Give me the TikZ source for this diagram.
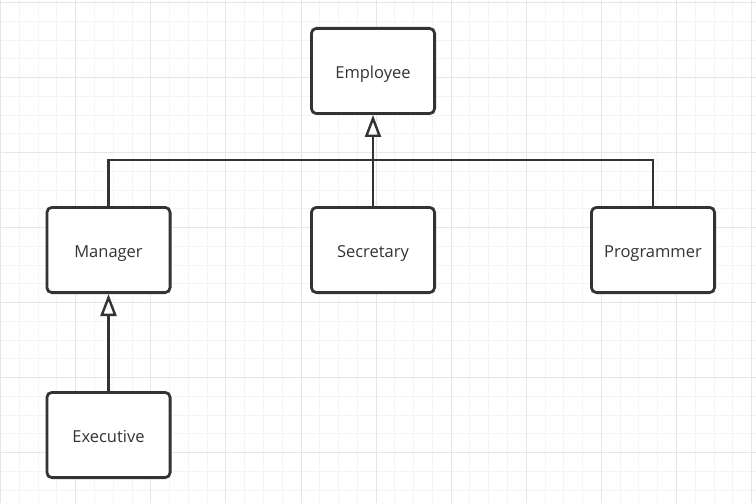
\documentclass[tikz,border=0pt]{standalone}
\usepackage{fontspec}
\setmainfont{Open Sans}
\usetikzlibrary{arrows.meta}
\definecolor{ink}{HTML}{333333}
\definecolor{txt}{HTML}{333333}
\definecolor{gridminor}{HTML}{F4F4F4}
\definecolor{gridmajor}{HTML}{E6E6E6}
\tikzset{
  classbox/.style={draw=ink, line width=2.8pt, rounded corners=5pt, fill=white,
    minimum width=123.2pt, minimum height=85.2pt, inner sep=0pt,
    text height=15.5pt, text depth=0pt,
    text=txt, font=\fontsize{16.5}{19}\selectfont},
  conn/.style={draw=ink, line width=2.8pt},
  inherit/.style={conn, -{Triangle[open, length=22pt, width=16pt, line width=2.4pt]}}
}
\begin{document}
\begin{tikzpicture}[x=1pt,y=-1pt]
\useasboundingbox (0,0) rectangle (756,503);
\fill[white] (0,0) rectangle (756,503);
% grid
\foreach \i in {0,...,41} {
  \draw[gridminor, line width=1pt] ({0.6+18.775*\i},0) -- ({0.6+18.775*\i},503);
}
\foreach \i in {0,...,27} {
  \draw[gridminor, line width=1pt] (0,{2.7+18.75*\i}) -- (756,{2.7+18.75*\i});
}
\foreach \i in {0,...,10} {
  \draw[gridmajor, line width=1pt] ({0.6+75.1*\i},0) -- ({0.6+75.1*\i},503);
}
\foreach \i in {0,...,6} {
  \draw[gridmajor, line width=1pt] (0,{2.7+75*\i}) -- (756,{2.7+75*\i});
}
% nodes
\node[classbox] (employee) at (373,71) {Employee};
\node[classbox] (manager) at (108.5,250) {Manager};
\node[classbox] (secretary) at (373,250) {Secretary};
\node[classbox] (programmer) at (653,250) {Programmer};
\node[classbox] (executive) at (108.5,435) {Executive};
\coordinate (bus) at (373,160);
% connectors
\draw[conn] (manager.north) |- (bus) -| (programmer.north);
\draw[inherit] (secretary.north) -- (employee.south);
\draw[inherit] (executive.north) -- (manager.south);
\end{tikzpicture}
\end{document}
